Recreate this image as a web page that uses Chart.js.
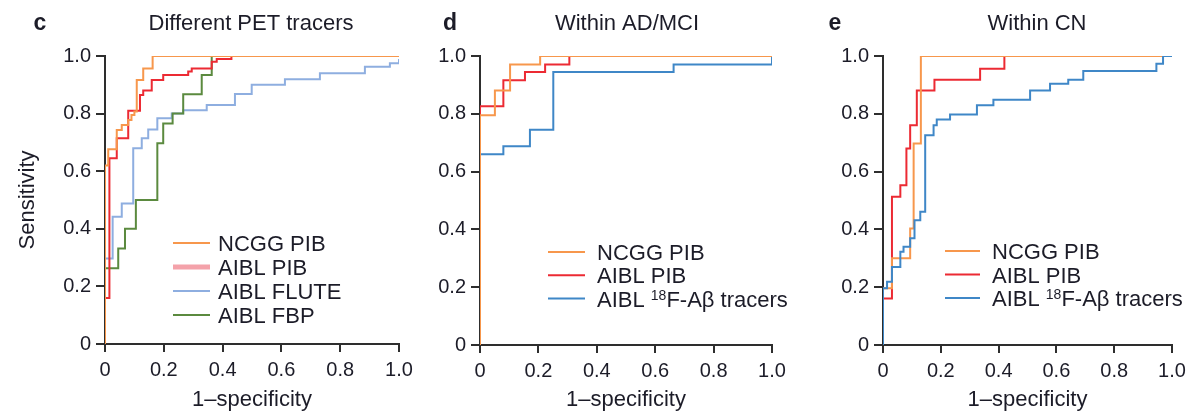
<!DOCTYPE html>
<html>
<head>
<meta charset="utf-8">
<title>ROC curves</title>
<script src="https://cdn.jsdelivr.net/npm/chart.js@4.4.1/dist/chart.umd.min.js"></script>
<style>
  html, body { margin: 0; padding: 0; background: #fff; }
  .panel { position: absolute; left: 0; top: 0; width: 1196px; height: 413px; }
</style>
</head>
<body>
<div class="panel"><canvas id="chartC"></canvas></div>
<div class="panel"><canvas id="chartD"></canvas></div>
<div class="panel"><canvas id="chartE"></canvas></div>
<script>
// axis ticks (both axes)
const tickValues = [0, 0.2, 0.4, 0.6, 0.8, 1.0];
const tickLabels = ['0', '0.2', '0.4', '0.6', '0.8', '1.0'];

// c: different PET tracers  (x = 1-specificity, y = sensitivity, step corners)
const cNcggX  = [0, 0, 0.011, 0.04, 0.057, 0.079, 0.09, 0.1, 0.108, 0.13, 0.162, 1];
const cNcggY  = [0, 0.62, 0.676, 0.743, 0.76, 0.778, 0.795, 0.807, 0.917, 0.957, 1, 1];
const cPibX   = [0, 0, 0.015, 0.04, 0.079, 0.119, 0.13, 0.159, 0.198, 0.283, 0.295, 0.363, 0.38, 0.43, 1];
const cPibY   = [0, 0.16, 0.645, 0.714, 0.81, 0.865, 0.88, 0.917, 0.934, 0.946, 0.957, 0.98, 0.99, 1, 1];
const cFluteX = [0, 0, 0.026, 0.057, 0.096, 0.125, 0.147, 0.178, 0.227, 0.266, 0.346, 0.442, 0.499, 0.612, 0.731, 0.884, 0.969, 1];
const cFluteY = [0, 0.297, 0.442, 0.488, 0.68, 0.714, 0.745, 0.784, 0.8, 0.812, 0.83, 0.868, 0.9, 0.919, 0.94, 0.963, 0.975, 0.99];
const cFbpX   = [0, 0, 0.045, 0.068, 0.105, 0.178, 0.198, 0.23, 0.266, 0.329, 0.363, 1];
const cFbpY   = [0, 0.263, 0.332, 0.4, 0.5, 0.697, 0.766, 0.8, 0.867, 0.934, 1, 1];

// d: within AD/MCI
const dNcggX = [0, 0, 0.051, 0.103, 0.206, 1];
const dNcggY = [0, 0.795, 0.881, 0.971, 1, 1];
const dPibX  = [0, 0, 0.08, 0.154, 0.223, 0.306, 1];
const dPibY  = [0, 0.826, 0.916, 0.945, 0.971, 1, 1];
const dF18X  = [0, 0, 0.08, 0.171, 0.251, 0.663, 1];
const dF18Y  = [0, 0.66, 0.688, 0.745, 0.945, 0.971, 1];

// e: within CN
const eNcggX = [0, 0, 0.031, 0.094, 0.106, 0.131, 1];
const eNcggY = [0, 0.196, 0.3, 0.403, 0.697, 1, 1];
const ePibX  = [0, 0, 0.031, 0.06, 0.081, 0.094, 0.117, 0.178, 0.336, 0.42, 1];
const ePibY  = [0, 0.161, 0.513, 0.553, 0.68, 0.76, 0.881, 0.918, 0.956, 1, 1];
const eF18X  = [0, 0, 0.014, 0.031, 0.06, 0.071, 0.094, 0.109, 0.129, 0.146, 0.175, 0.186, 0.232, 0.325, 0.382, 0.509, 0.578, 0.641, 0.693, 0.946, 0.969, 1];
const eF18Y  = [0, 0.196, 0.219, 0.27, 0.323, 0.34, 0.369, 0.432, 0.461, 0.726, 0.76, 0.78, 0.798, 0.83, 0.849, 0.881, 0.904, 0.918, 0.948, 0.973, 1, 1];

const namesC  = ['NCGG PIB', 'AIBL PIB', 'AIBL FLUTE', 'AIBL FBP'];
const namesDE = ['NCGG PIB', 'AIBL PIB', 'AIBL {18}F-A\u03b2 tracers'];

const FAMILY = "'Liberation Sans', Arial, Helvetica, sans-serif";
const TEXT = '#1c1c28';
const AXIS = '#2e2e2e';
const ORANGE = '#f7974c';
const RED = '#ec2a33';
const LBLUE = '#8eaee0';
const GREEN = '#5b8a3f';
const BLUE = '#3f87c7';

function pts(xs, ys) {
  return xs.map((x, i) => ({ x: x, y: ys[i] }));
}

function series(label, xs, ys, color, order, extra) {
  return Object.assign({
    label: label,
    data: pts(xs, ys),
    borderColor: color,
    backgroundColor: color,
    borderWidth: 2,
    pointRadius: 0,
    stepped: 'before',   // horizontal run first, then the rise
    fill: false,
    order: order
  }, extra || {});
}

// draws the panel letter, the title and the in-plot legend
const panelText = {
  id: 'panelText',
  afterDraw(chart, args, o) {
    const ctx = chart.ctx;
    const a = chart.chartArea;
    ctx.save();
    ctx.fillStyle = TEXT;
    ctx.textBaseline = 'alphabetic';
    ctx.textAlign = 'center';
    ctx.font = 'bold 23px ' + FAMILY;
    ctx.fillText(o.letter, o.letterX, 30);
    ctx.font = '22px ' + FAMILY;
    ctx.fillText(o.title, o.titleX, 30);

    ctx.textAlign = 'left';
    chart.data.datasets.forEach((ds, i) => {
      const y = a.top + o.legendTop + i * o.legendStep;
      ctx.beginPath();
      ctx.strokeStyle = ds.legendColor || ds.borderColor;
      ctx.lineWidth = ds.legendWidth || 2;
      ctx.moveTo(a.left + o.lineX, y);
      ctx.lineTo(a.left + o.lineX + o.lineLen, y);
      ctx.stroke();
      // label with optional {superscript}
      let x = a.left + o.textX;
      ds.label.split(/(\{[^}]*\})/).forEach(part => {
        if (!part) return;
        if (part[0] === '{') {
          const t = part.slice(1, -1);
          ctx.font = '14px ' + FAMILY;
          ctx.fillText(t, x, y + 1);
          x += ctx.measureText(t).width;
        } else {
          ctx.font = '22px ' + FAMILY;
          ctx.fillText(part, x, y + 8);
          x += ctx.measureText(part).width;
        }
      });
    });
    ctx.restore();
  }
};

function makeChart(id, datasets, p) {
  const tickFont = { family: FAMILY, size: 20 };
  const titleFont = { family: FAMILY, size: 22 };
  return new Chart(document.getElementById(id), {
    type: 'line',
    data: { datasets: datasets },
    options: {
      responsive: true,
      maintainAspectRatio: false,
      animation: false,
      events: [],
      layout: { padding: { left: p.padLeft, right: p.padRight, top: 56, bottom: 0 } },
      scales: {
        x: {
          type: 'linear', min: 0, max: 1,
          afterBuildTicks: s => { s.ticks = tickValues.map(v => ({ value: v })); },
          afterFit: s => { s.height = p.xHeight; },
          ticks: {
            callback: (v, i) => tickLabels[i],
            font: tickFont, color: TEXT, padding: 6,
            maxRotation: 0, autoSkip: false
          },
          grid: { drawOnChartArea: false, drawTicks: true, tickLength: 8, color: AXIS, lineWidth: 2 },
          border: { display: true, color: AXIS, width: 2 },
          title: { display: true, text: '1\u2013specificity', font: titleFont, color: TEXT, padding: { top: 0, bottom: 0 } }
        },
        y: {
          type: 'linear', min: 0, max: 1,
          afterBuildTicks: s => { s.ticks = tickValues.map(v => ({ value: v })); },
          afterFit: s => { s.width = p.yWidth; },
          ticks: {
            callback: (v, i) => tickLabels[i],
            font: tickFont, color: TEXT, padding: 5, autoSkip: false
          },
          grid: { drawOnChartArea: false, drawTicks: true, tickLength: 9, color: AXIS, lineWidth: 2 },
          border: { display: true, color: AXIS, width: 2 },
          title: { display: !!p.yTitle, text: p.yTitle || '', font: titleFont, color: TEXT, padding: { top: 15, bottom: 0 } }
        }
      },
      plugins: {
        legend: { display: false },
        tooltip: { enabled: false },
        panelText: p.text
      }
    },
    plugins: [panelText]
  });
}

makeChart('chartC', [
  series(namesC[0], cNcggX, cNcggY, ORANGE, 0),
  series(namesC[1], cPibX, cPibY, RED, 1, { legendColor: '#f4a2aa', legendWidth: 5 }),
  series(namesC[2], cFluteX, cFluteY, LBLUE, 3),
  series(namesC[3], cFbpX, cFbpY, GREEN, 2)
], {
  padLeft: 0, padRight: 797, yWidth: 105, xHeight: 69, yTitle: 'Sensitivity',
  text: { letter: 'c', letterX: 40, title: 'Different PET tracers', titleX: 251,
          legendTop: 187, legendStep: 24, lineX: 68, lineLen: 37, textX: 113 }
});

makeChart('chartD', [
  series(namesDE[0], dNcggX, dNcggY, ORANGE, 0),
  series(namesDE[1], dPibX, dPibY, RED, 1),
  series(namesDE[2], dF18X, dF18Y, BLUE, 2)
], {
  padLeft: 420, padRight: 424, yWidth: 60, xHeight: 68,
  text: { letter: 'd', letterX: 450, title: 'Within AD/MCI', titleX: 627,
          legendTop: 196, legendStep: 23.3, lineX: 68, lineLen: 37, textX: 117 }
});

makeChart('chartE', [
  series(namesDE[0], eNcggX, eNcggY, ORANGE, 1),
  series(namesDE[1], ePibX, ePibY, RED, 2),
  series(namesDE[2], eF18X, eF18Y, BLUE, 0)
], {
  padLeft: 820, padRight: 24, yWidth: 63, xHeight: 68,
  text: { letter: 'e', letterX: 835, title: 'Within CN', titleX: 1037,
          legendTop: 195, legendStep: 23.5, lineX: 62, lineLen: 35, textX: 109 }
});
</script>
</body>
</html>
